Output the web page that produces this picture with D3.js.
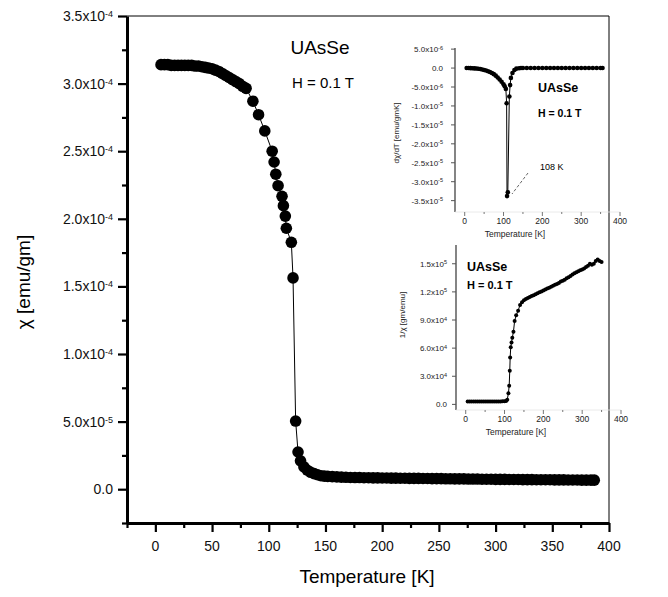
<!DOCTYPE html>
<html>
<head>
<meta charset="utf-8">
<script src="https://cdn.jsdelivr.net/npm/d3@7"></script>
<style>
body{margin:0;background:#fff;}
text{font-family:"Liberation Sans",Arial,sans-serif;}
</style>
</head>
<body>
<div id="chart"></div>
<script>
// main chi(T) data, chi in units of 1e-4 emu/gm
const mainT=[5,8,11,14,17,20,23,26,29,32,35,38,41,44,47,50,53,56,59,62,65,68,71,74,77,80,86,91,96.5,103,104.7,106.2,108.2,111.7,112.9,114.6,115.5,119.9,121.4,123.7,125.8,128,131,134,137,140,143,146,149,152,156,160,164,168,172,176,180,184,188,192,196,200,204,208,212,216,220,224,228,232,236,240,244,248,252,256,260,264,268,272,276,280,284,288,292,296,300,304,308,312,316,320,324,328,332,336,340,344,348,352,356,360,364,368,372,376,380,384,387];
const mainChi=[3.14,3.14,3.14,3.135,3.135,3.135,3.135,3.135,3.135,3.135,3.13,3.13,3.125,3.12,3.115,3.11,3.10,3.09,3.075,3.06,3.045,3.03,3.015,3.0,2.98,2.965,2.87,2.77,2.65,2.50,2.42,2.33,2.245,2.166,2.097,2.02,1.93,1.826,1.563,0.504,0.275,0.21,0.165,0.14,0.125,0.115,0.107,0.10,0.097,0.095,0.093,0.091,0.089,0.088,0.087,0.086,0.086,0.085,0.085,0.084,0.084,0.083,0.083,0.082,0.082,0.081,0.081,0.080,0.080,0.080,0.079,0.079,0.078,0.078,0.078,0.077,0.077,0.076,0.076,0.076,0.075,0.075,0.075,0.074,0.074,0.074,0.073,0.073,0.073,0.072,0.072,0.072,0.071,0.071,0.071,0.070,0.070,0.070,0.070,0.069,0.069,0.069,0.068,0.068,0.068,0.067,0.067,0.067,0.067];

// inset 1: dchi/dT, units of 1e-6 emu/gmK
const dT=[5,10,15,20,25,30,35,40,45,50,55,60,65,70,75,80,85,90,95,100,103,106,108,109,111,115,117,119,123,128,133,140,145,150,160,170,180,190,200,210,220,230,240,250,260,270,280,290,300,310,320,330,340,350,355];
const dChi=[0,0,-0.02,-0.05,-0.08,-0.12,-0.18,-0.26,-0.36,-0.5,-0.65,-0.85,-1.05,-1.3,-1.6,-2.0,-2.5,-3.0,-3.6,-4.3,-4.8,-5.5,-9.3,-33.8,-32.8,-7.5,-4.5,-2.6,-1.3,-0.5,-0.15,-0.05,0,0,0,0,0,0,0,0,0,0,0,0,0,0,0,0,0,0,0,0,0,0,0];

// inset 2: 1/chi, units of 1e4 gm/emu
const invT=[5,10,15,20,25,30,35,40,45,50,55,60,65,70,75,80,85,90,95,100,104,107,110,112,113.5,114.5,116,118,120,123,126,130,135,140,145,150,155,160,165,170,175,180,185,190,195,200,205,210,215,220,225,230,235,240,245,250,255,260,265,270,275,280,285,290,295,300,305,310,315,320,325,330,335,340,345,350];
const invChi=[0.32,0.32,0.32,0.32,0.32,0.32,0.32,0.32,0.32,0.32,0.32,0.32,0.32,0.32,0.32,0.32,0.32,0.32,0.33,0.34,0.36,0.5,1.2,2.0,3.6,5.0,6.1,6.6,7.1,7.75,8.9,9.5,10.0,10.6,10.9,11.1,11.25,11.35,11.45,11.55,11.65,11.75,11.85,11.95,12.05,12.15,12.25,12.35,12.45,12.55,12.65,12.75,12.85,12.95,13.1,13.2,13.3,13.45,13.55,13.7,13.85,14.0,14.1,14.2,14.3,14.4,14.5,14.65,14.8,15.0,14.9,15.0,15.3,15.45,15.3,15.2];

const mainYTicks=[0,0.5e-4,1.0e-4,1.5e-4,2.0e-4,2.5e-4,3.0e-4,3.5e-4];
const mainXTicks=[0,50,100,150,200,250,300,350,400];
const in1YTicks=[5e-6,0,-5e-6,-1e-5,-1.5e-5,-2e-5,-2.5e-5,-3e-5,-3.5e-5];
const in2YTicks=[0,3e4,6e4,9e4,1.2e5,1.5e5];
const inXTicks=[0,100,200,300,400];

const svg=d3.select("#chart").append("svg").attr("width",668).attr("height",597);

// label like 3.5x10^-4
function sciLabel(sel,v,supSize){
  sel.each(function(){
    const t=d3.select(this);
    if(v===0){t.text("0.0");return;}
    let e=Math.floor(Math.log10(Math.abs(v))+1e-9);
    let m=v/Math.pow(10,e);
    t.append("tspan").text(m.toFixed(1)+"x10");
    t.append("tspan").attr("dy","-0.45em").attr("font-size",supSize).text(e);
  });
}

// ---------- main plot
const x=d3.scaleLinear().domain([-25,400]).range([127,609]);
const y=d3.scaleLinear().domain([-2.5e-5,3.5e-4]).range([523,16]);

svg.append("line").attr("x1",127).attr("x2",609).attr("y1",16).attr("y2",16).attr("stroke","#000").attr("stroke-width",1);
svg.append("line").attr("x1",609).attr("x2",609).attr("y1",16).attr("y2",523).attr("stroke","#000").attr("stroke-width",1);

const xAx=svg.append("g").attr("transform","translate(0,523)")
  .call(d3.axisBottom(x).tickValues(d3.range(-25,401,25)).tickSize(5).tickSizeOuter(0).tickFormat(""));
xAx.selectAll(".tick line").style("stroke-width","2.2px").attr("y2",d=>d%50===0?9:5);
xAx.select(".domain").style("stroke-width","3px");
svg.selectAll(".xlab").data(mainXTicks).join("text")
  .attr("x",d=>x(d)).attr("y",551).attr("text-anchor","middle").attr("font-size",14).attr("fill","#111").text(d=>d);

const yAx=svg.append("g").attr("transform","translate(127,0)")
  .call(d3.axisLeft(y).tickValues(d3.range(-2.5e-5,3.6e-4,2.5e-5)).tickSize(5).tickSizeOuter(0).tickFormat(""));
yAx.selectAll(".tick line").style("stroke-width","2.2px").attr("x2",(d,i)=>i%2===1?-9:-5);
yAx.select(".domain").style("stroke-width","3px");
mainYTicks.forEach(v=>{
  svg.append("text").attr("x",113).attr("y",y(v)+5).attr("text-anchor","end").attr("font-size",14).attr("fill","#111")
    .call(s=>sciLabel(s,v,9));
});

svg.append("text").attr("x",367).attr("y",583).attr("text-anchor","middle").attr("font-size",19).text("Temperature [K]");
svg.append("text").attr("transform","translate(30,282) rotate(-90)").attr("text-anchor","middle").attr("font-size",19).text("\u03c7  [emu/gm]");

const mainPts=mainT.map((t,i)=>[t,mainChi[i]*1e-4]);
svg.append("path").datum(mainPts).attr("fill","none").attr("stroke","#000").attr("stroke-width",1)
  .attr("d",d3.line().x(d=>x(d[0])).y(d=>y(d[1])));
svg.append("g").selectAll("circle").data(mainPts).join("circle")
  .attr("cx",d=>x(d[0])).attr("cy",d=>y(d[1])).attr("r",5.8).attr("fill","#000");

svg.append("text").attr("x",320).attr("y",54).attr("text-anchor","middle").attr("font-size",19).text("UAsSe");
svg.append("text").attr("x",292).attr("y",88).attr("font-size",15).text("H = 0.1 T");

// ---------- inset 1
const x1=d3.scaleLinear().domain([-25,400]).range([455,620]);
const y1=d3.scaleLinear().domain([-3.8e-5,5.3e-6]).range([212,48]);
svg.append("line").attr("x1",455).attr("x2",455).attr("y1",48).attr("y2",212).attr("stroke","#333").attr("stroke-width",1.2);
svg.append("line").attr("x1",455).attr("x2",620).attr("y1",212).attr("y2",212).attr("stroke","#e4e4e4").attr("stroke-width",0.8);
in1YTicks.forEach(v=>{
  svg.append("line").attr("x1",451).attr("x2",455).attr("y1",y1(v)).attr("y2",y1(v)).attr("stroke","#555");
  svg.append("text").attr("x",443).attr("y",y1(v)+3).attr("text-anchor","end").attr("font-size",8).attr("fill","#222")
    .call(s=>sciLabel(s,v,5.5));
});
d3.range(0,401,50).forEach(v=>{
  svg.append("line").attr("x1",x1(v)).attr("x2",x1(v)).attr("y1",212).attr("y2",v%100===0?216:214).attr("stroke","#777");
});
svg.selectAll(".x1lab").data(inXTicks).join("text").attr("x",d=>x1(d)).attr("y",224).attr("text-anchor","middle").attr("font-size",8.5).attr("fill","#222").text(d=>d);
svg.append("text").attr("x",515).attr("y",237).attr("text-anchor","middle").attr("font-size",8.5).attr("fill","#222").text("Temperature [K]");
svg.append("text").attr("transform","translate(399,133) rotate(-90)").attr("text-anchor","middle").attr("font-size",8).attr("fill","#222").text("d\u03c7/dT [emu/gmK]");
const pts1=dT.map((t,i)=>[t,dChi[i]*1e-6]);
svg.append("path").datum(pts1).attr("fill","none").attr("stroke","#000").attr("stroke-width",1)
  .attr("d",d3.line().x(d=>x1(d[0])).y(d=>y1(d[1])));
svg.append("g").selectAll("circle").data(pts1).join("circle")
  .attr("cx",d=>x1(d[0])).attr("cy",d=>y1(d[1])).attr("r",2.3).attr("fill","#000");
svg.append("text").attr("x",538).attr("y",92).attr("font-size",12.5).attr("font-weight","bold").text("UAsSe");
svg.append("text").attr("x",538).attr("y",117).attr("font-size",10.5).attr("font-weight","bold").text("H = 0.1 T");
svg.append("text").attr("x",540).attr("y",170).attr("font-size",9).text("108 K");
svg.append("line").attr("x1",528).attr("y1",173).attr("x2",512).attr("y2",194).attr("stroke","#666").attr("stroke-dasharray","3,2");

// ---------- inset 2
const x2=d3.scaleLinear().domain([-25,400]).range([456,621]);
const y2=d3.scaleLinear().domain([-6e3,1.7e5]).range([410,245]);
svg.append("line").attr("x1",456).attr("x2",456).attr("y1",245).attr("y2",410).attr("stroke","#333").attr("stroke-width",1.2);
svg.append("line").attr("x1",456).attr("x2",621).attr("y1",410).attr("y2",410).attr("stroke","#e4e4e4").attr("stroke-width",0.8);
in2YTicks.forEach(v=>{
  svg.append("line").attr("x1",452).attr("x2",456).attr("y1",y2(v)).attr("y2",y2(v)).attr("stroke","#555");
  svg.append("text").attr("x",447).attr("y",y2(v)+3).attr("text-anchor","end").attr("font-size",8).attr("fill","#222")
    .call(s=>sciLabel(s,v,5.5));
});
d3.range(0,401,50).forEach(v=>{
  svg.append("line").attr("x1",x2(v)).attr("x2",x2(v)).attr("y1",410).attr("y2",v%100===0?414:412).attr("stroke","#777");
});
svg.selectAll(".x2lab").data(inXTicks).join("text").attr("x",d=>x2(d)).attr("y",422).attr("text-anchor","middle").attr("font-size",8.5).attr("fill","#222").text(d=>d);
svg.append("text").attr("x",516).attr("y",435).attr("text-anchor","middle").attr("font-size",8.5).attr("fill","#222").text("Temperature [K]");
svg.append("text").attr("transform","translate(405,315) rotate(-90)").attr("text-anchor","middle").attr("font-size",8).attr("fill","#222").text("1/\u03c7 [gm/emu]");
const pts2=invT.map((t,i)=>[t,invChi[i]*1e4]);
svg.append("path").datum(pts2).attr("fill","none").attr("stroke","#000").attr("stroke-width",1)
  .attr("d",d3.line().x(d=>x2(d[0])).y(d=>y2(d[1])));
svg.append("g").selectAll("circle").data(pts2).join("circle")
  .attr("cx",d=>x2(d[0])).attr("cy",d=>y2(d[1])).attr("r",2).attr("fill","#000");
svg.append("text").attr("x",467).attr("y",271).attr("font-size",12.5).attr("font-weight","bold").text("UAsSe");
svg.append("text").attr("x",467).attr("y",289).attr("font-size",11).attr("font-weight","bold").text("H = 0.1 T");
</script>
</body>
</html>
